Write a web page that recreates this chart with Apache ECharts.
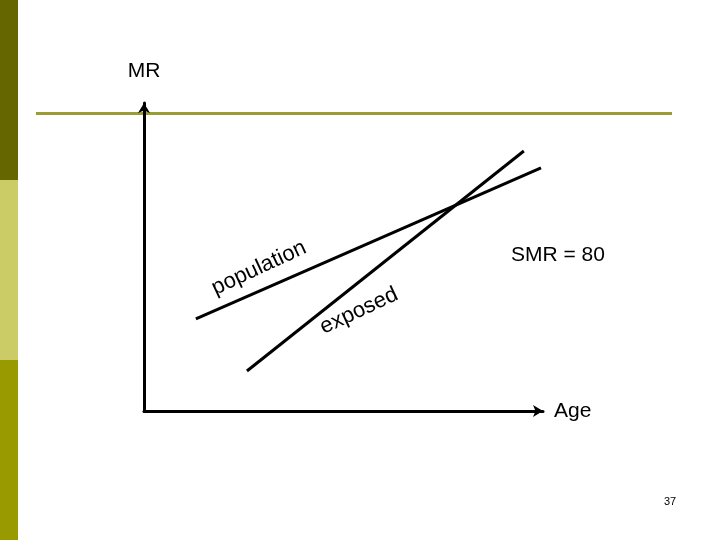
<!DOCTYPE html>
<html>
<head>
<meta charset="utf-8">
<script src="https://cdn.jsdelivr.net/npm/echarts@6/dist/echarts.min.js"></script>
<style>
html,body{margin:0;padding:0;background:#fff;}
#c{width:720px;height:540px;}
</style>
</head>
<body>
<div id="c"></div>
<script>
// Data (Age vs MR, arbitrary units 0-100)
var populationLine = [[13.0, 29.9], [99.5, 78.9]];
var exposedLine = [[25.8, 13.0], [95.2, 84.4]];
var xAxisName = 'Age';
var yAxisName = 'MR';
var seriesNames = ['population', 'exposed'];
var annotation = 'SMR = 80';
var pageNumber = '37';

var FONT = '"Liberation Sans", Arial, sans-serif';
var chart = echarts.init(document.getElementById('c'), null, {renderer: 'canvas'});

var axisCommon = {
  type: 'value', min: 0, max: 100,
  axisLine: {show: true, symbol: ['none', 'arrow'], symbolSize: [9, 10],
    lineStyle: {color: '#000', width: 3}},
  axisTick: {show: false}, axisLabel: {show: false}, splitLine: {show: false},
  nameTextStyle: {color: '#000', fontSize: 21, fontFamily: FONT}
};

chart.setOption({
  animation: false,
  backgroundColor: '#ffffff',
  grid: {left: 144, top: 103, width: 399, height: 308},
  xAxis: Object.assign({}, axisCommon, {name: xAxisName, nameLocation: 'end', nameGap: 11}),
  yAxis: Object.assign({}, axisCommon, {name: yAxisName, nameLocation: 'end', nameGap: 21}),
  series: [
    {name: seriesNames[0], type: 'line', data: populationLine, symbol: 'none',
      lineStyle: {color: '#000', width: 3}},
    {name: seriesNames[1], type: 'line', data: exposedLine, symbol: 'none',
      lineStyle: {color: '#000', width: 3}}
  ],
  graphic: [
    {type: 'rect', left: 0, top: 0, shape: {width: 18, height: 180}, style: {fill: '#666600'}, silent: true},
    {type: 'rect', left: 0, top: 180, shape: {width: 18, height: 180}, style: {fill: '#CCCC66'}, silent: true},
    {type: 'rect', left: 0, top: 360, shape: {width: 18, height: 180}, style: {fill: '#999900'}, silent: true},
    {type: 'rect', left: 36, top: 112, shape: {width: 636, height: 3}, style: {fill: '#9C9C34'}, silent: true},
    {type: 'text', x: 259, y: 268, rotation: 25 * Math.PI / 180,
      style: {text: seriesNames[0], fill: '#000', font: '22px ' + FONT, textAlign: 'center', textVerticalAlign: 'middle'}},
    {type: 'text', x: 359, y: 311, rotation: 25 * Math.PI / 180,
      style: {text: seriesNames[1], fill: '#000', font: '22px ' + FONT, textAlign: 'center', textVerticalAlign: 'middle'}},
    {type: 'text', x: 558, y: 255,
      style: {text: annotation, fill: '#000', font: '21px ' + FONT, textAlign: 'center', textVerticalAlign: 'middle'}},
    {type: 'text', x: 670, y: 502,
      style: {text: pageNumber, fill: '#000', font: '11px ' + FONT, textAlign: 'center', textVerticalAlign: 'middle'}}
  ]
});
</script>
</body>
</html>
